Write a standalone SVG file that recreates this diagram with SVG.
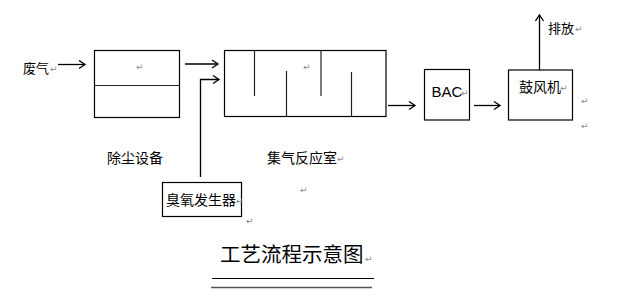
<svg xmlns="http://www.w3.org/2000/svg" width="642" height="296" viewBox="0 0 642 296">
<style>
.box{fill:#fff;stroke:#000;stroke-width:1.2}
.ln{fill:none;stroke:#000;stroke-width:1.3}
.bf{fill:none;stroke:#222;stroke-width:1.2}
.t{font-family:"Noto Sans CJK SC","Liberation Sans",sans-serif;font-size:14px;fill:#000}
.s13{font-size:13px}
.ttl{font-size:20.5px}
.en{font-family:"Liberation Sans",Arial,sans-serif;font-size:15px;fill:#000}
.pm{font-family:"DejaVu Sans",sans-serif;font-size:9px;fill:#888}
</style>
<defs>
<marker id="ah" markerWidth="10" markerHeight="10" refX="8" refY="5" orient="auto" markerUnits="userSpaceOnUse">
<polyline points="2,1 8,5 2,9" fill="none" stroke="#000" stroke-width="1.3"/>
</marker>
</defs>
<rect width="642" height="296" fill="#fff"/>
<g id="feed">
<text class="t s13" x="23" y="73">废气</text>
<text class="pm" x="50" y="72">↵</text>
</g>
<g id="dust">
<rect class="box" x="94.5" y="50.5" width="85" height="67"/>
<line class="bf" x1="94.5" y1="85.5" x2="179.5" y2="85.5"/>
<text class="pm" x="136" y="70">↵</text>
<text class="t" x="107" y="163">除尘设备</text>
</g>
<g id="reactor">
<rect class="box" x="224.5" y="50.5" width="161.5" height="66"/>
<line class="bf" x1="254.5" y1="50.5" x2="254.5" y2="96"/>
<line class="bf" x1="286.5" y1="71" x2="286.5" y2="116.5"/>
<line class="bf" x1="321" y1="50.5" x2="321" y2="96"/>
<line class="bf" x1="351.5" y1="72" x2="351.5" y2="116.5"/>
<text class="pm" x="303" y="70">↵</text>
<text class="t" x="267" y="163">集气反应室</text>
<text class="pm" x="337" y="162">↵</text>
<text class="pm" x="300" y="193">↵</text>
</g>
<g id="ozone">
<rect class="box" x="162.5" y="182.5" width="79" height="34"/>
<text class="t" x="166" y="205">臭氧发生器</text>
<text class="pm" x="236" y="204">↵</text>
<text class="pm" x="246" y="224">↵</text>
</g>
<g id="bac">
<rect class="box" x="424.5" y="69.5" width="45" height="50.5"/>
<text class="en" x="431.5" y="97">BAC</text>
<text class="pm" x="461" y="96">↵</text>
</g>
<g id="blower">
<rect class="box" x="508.5" y="70" width="64" height="50"/>
<text class="t" x="519" y="92">鼓风机</text>
<text class="pm" x="560" y="91">↵</text>
<text class="t s13" x="548" y="33">排放</text>
<text class="pm" x="575" y="32">↵</text>
<text class="pm" x="581" y="104">↵</text>
<text class="pm" x="581" y="129">↵</text>
</g>
<g id="connectors">
<line class="ln" x1="58" y1="64.5" x2="85" y2="64.5" marker-end="url(#ah)"/>
<line class="ln" x1="185" y1="64" x2="218" y2="64" marker-end="url(#ah)"/>
<polyline class="ln" points="200.5,177 200.5,79.5 219,79.5" marker-end="url(#ah)"/>
<line class="ln" x1="388" y1="105.5" x2="415" y2="105.5" marker-end="url(#ah)"/>
<line class="ln" x1="474" y1="105.5" x2="500" y2="105.5" marker-end="url(#ah)"/>
<line class="ln" x1="539.5" y1="70" x2="539.5" y2="15" marker-end="url(#ah)"/>
</g>
<g id="title">
<text class="t ttl" x="220" y="262">工艺流程示意图</text>
<text class="pm" x="365" y="262">↵</text>
<line x1="212" y1="278.5" x2="374" y2="278.5" stroke="#000" stroke-width="1.2"/>
<line x1="211" y1="287.5" x2="372" y2="287.5" stroke="#555" stroke-width="1.5"/>
</g>
</svg>
